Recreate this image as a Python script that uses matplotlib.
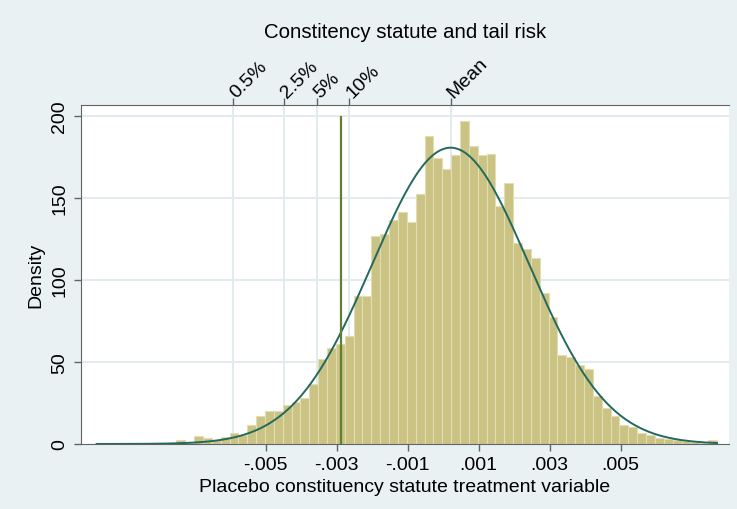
"""
Placebo distribution of the constituency statute treatment variable,
with a fitted normal density and the left-tail percentiles marked on top.
"""
import matplotlib
matplotlib.use("Agg")
import matplotlib.pyplot as plt
import numpy as np

plt.rcParams.update({"font.family": ["Liberation Sans", "DejaVu Sans"], "font.size": 14})

# histogram: 70 equal-width bins starting at the smallest placebo draw
BIN_START = -0.00976
BIN_WIDTH = 0.0002496
DENSITY = [
    0.8, 0.0, 0.0, 0.0, 0.0, 0.0, 0.0, 0.6, 0.0, 2.2,
    0.4, 4.6, 3.4, 2.6, 4.2, 6.6, 5.2, 11.4, 17.0, 20.2,
    20.2, 23.8, 25.4, 27.8, 36.8, 51.8, 58.3, 60.7, 65.6, 90.4,
    90.4, 126.9, 128.0, 136.7, 141.3, 135.4, 152.3, 187.8, 174.1, 167.5,
    176.3, 196.7, 181.3, 176.0, 176.4, 144.8, 159.2, 122.4, 119.0, 113.1,
    92.0, 77.2, 54.3, 52.8, 47.9, 45.7, 29.4, 22.2, 16.9, 11.7,
    10.2, 6.4, 5.3, 3.8, 2.8, 2.2, 1.6, 1.2, 0.8, 2.3,
]

# fitted normal
MEAN = 0.00021
SD = 0.00221

# percentiles of the placebo distribution (top axis)
PCT_VALUES = [-0.00591, -0.00448, -0.00356, -0.00265, MEAN]
PCT_LABELS = ["0.5%", "2.5%", "5%", "10%", "Mean"]

# actual estimate
ACTUAL = -0.00289

XTICKS = [-0.005, -0.003, -0.001, 0.001, 0.003, 0.005]
XTICK_LABELS = ["-.005", "-.003", "-.001", ".001", ".003", ".005"]
YTICKS = [0, 50, 100, 150, 200]

BG = "#e9f1f2"
GRID = "#e1eaec"
AXIS = "#5f6466"

fig = plt.figure(figsize=(7.37, 5.10), dpi=100, facecolor=BG)
ax = fig.add_axes([0.1099, 0.1275, 0.8792, 0.6652])
ax.set_facecolor("white")

edges = BIN_START + BIN_WIDTH * np.arange(len(DENSITY) + 1)
ax.bar(edges[:-1], DENSITY, width=BIN_WIDTH, align="edge",
       color="#cbc383", edgecolor="#e2ddb2", linewidth=0.8, zorder=2)

xs = np.linspace(edges[0], edges[-1], 400)
pdf = np.exp(-0.5 * ((xs - MEAN) / SD) ** 2) / (SD * np.sqrt(2 * np.pi))
ax.plot(xs, pdf, color="#23695f", lw=1.4, zorder=4)

ax.vlines(ACTUAL, 0, 200, color="#5f8030", lw=1.6, zorder=5)

for v in PCT_VALUES:
    ax.axvline(v, color=GRID, lw=1.3, zorder=1)
for v in YTICKS[1:]:
    ax.axhline(v, color=GRID, lw=1.3, zorder=1)

ax.set_xlim(-0.01020, 0.00805)
ax.set_ylim(0, 206.7)

ax.set_xticks(XTICKS)
ax.set_xticklabels(XTICK_LABELS)
ax.set_yticks(YTICKS)
ax.set_yticklabels([str(v) for v in YTICKS], rotation=90, va="center")
ax.tick_params(axis="both", length=5, width=1, color=AXIS, pad=4)

for side in ("left", "bottom"):
    ax.spines[side].set_color(AXIS)
ax.spines["right"].set_visible(False)
ax.spines["top"].set_visible(False)

ax.set_ylabel("Density", labelpad=5)
ax.set_xlabel("Placebo constituency statute treatment variable", labelpad=3)

top = ax.twiny()
top.set_xlim(ax.get_xlim())
top.set_xticks(PCT_VALUES)
top.set_xticklabels(PCT_LABELS, rotation=45, ha="left", va="center",
                    rotation_mode="anchor")
top.tick_params(axis="x", length=5, width=1, color=AXIS, pad=2)
for side in ("left", "bottom", "right"):
    top.spines[side].set_visible(False)
top.spines["top"].set_color(AXIS)

fig.text(0.5495, 1 - 32 / 510, "Constitency statute and tail risk",
         ha="center", va="center", fontsize=14.7)

fig.savefig("out.png", dpi=100, facecolor=BG)
